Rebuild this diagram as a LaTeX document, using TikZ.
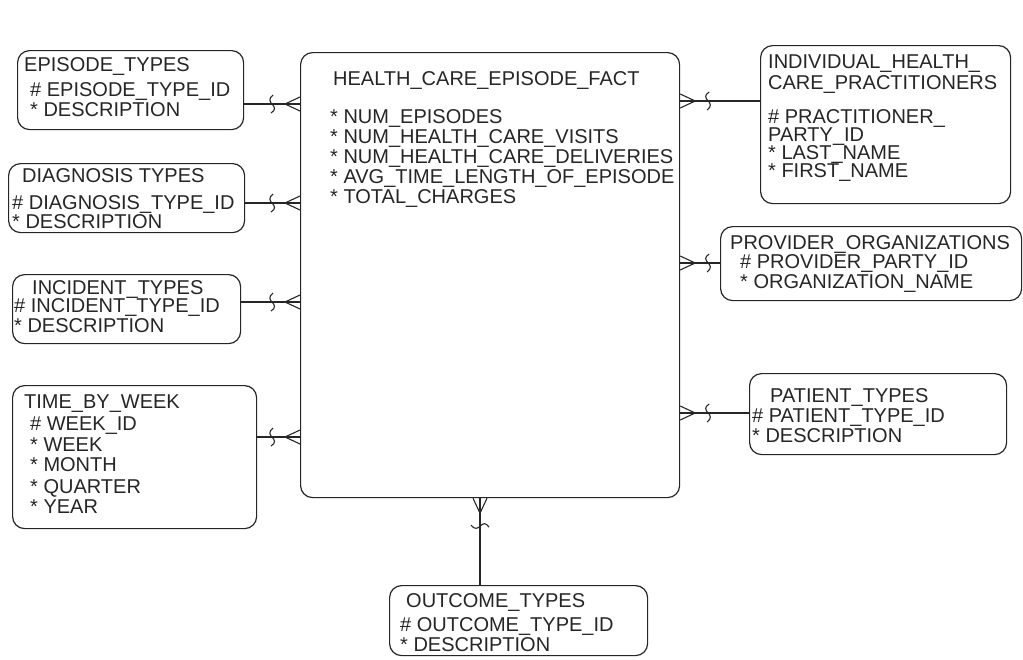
\documentclass[tikz,border=0pt]{standalone}
\usepackage{fontspec}
\setmainfont{Liberation Sans}
\begin{document}
\begin{tikzpicture}[x=1pt,y=-1pt,
  ent/.style={draw=black!85, line width=1.2pt, rounded corners=12pt, anchor=north west, inner sep=0pt},
  txt/.style={anchor=west, inner sep=0pt, text height=13.6pt, text depth=0pt, font=\fontsize{20}{22}\selectfont, text=black!85},
  conn/.style={draw=black!85, line width=1.1pt},
  crow/.pic={
    \draw[conn] (0,-7) -- (-15,0) -- (0,7);
    \draw[conn] (-27,-9) .. controls (-32,-5) and (-30,-2) .. (-28,0) .. controls (-25,3) and (-24,6) .. (-29,9);
  }]
\useasboundingbox (0,0) rectangle (1023,659);
\fill[white] (0,0) rectangle (1023,659);

% boxes
\node[ent, minimum width=226pt, minimum height=79pt] (ep) at (17,50) {};
\node[ent, minimum width=236pt, minimum height=69pt] (dg) at (8,163) {};
\node[ent, minimum width=228pt, minimum height=69pt] (inc) at (12,274) {};
\node[ent, minimum width=244pt, minimum height=143pt] (tw) at (12,385) {};
\node[ent, minimum width=379pt, minimum height=445pt] (fact) at (300,52) {};
\node[ent, minimum width=250pt, minimum height=158pt] (ind) at (760,45) {};
\node[ent, minimum width=301pt, minimum height=74pt] (pr) at (720,226) {};
\node[ent, minimum width=257pt, minimum height=81pt] (pt) at (749,373) {};
\node[ent, minimum width=258pt, minimum height=70pt] (oc) at (389,585) {};

% texts
\node[txt] (ep1) at (24,65) {EPISODE\_TYPES};
\node[txt] (ep2) at (30,90) {\# EPISODE\_TYPE\_ID};
\node[txt] (ep3) at (30,110) {* DESCRIPTION};

\node[txt] (dg1) at (22,176) {DIAGNOSIS TYPES};
\node[txt] (dg2) at (12,203) {\# DIAGNOSIS\_TYPE\_ID};
\node[txt] (dg3) at (12,222) {* DESCRIPTION};

\node[txt] (in1) at (32,288) {INCIDENT\_TYPES};
\node[txt] (in2) at (14,306) {\# INCIDENT\_TYPE\_ID};
\node[txt] (in3) at (14,326) {* DESCRIPTION};

\node[txt] (tw1) at (24,402) {TIME\_BY\_WEEK};
\node[txt] (tw2) at (30,424) {\# WEEK\_ID};
\node[txt] (tw3) at (30,445) {* WEEK};
\node[txt] (tw4) at (30,465) {* MONTH};
\node[txt] (tw5) at (30,487) {* QUARTER};
\node[txt] (tw6) at (30,507) {* YEAR};

\node[txt] (f0) at (333,79) {HEALTH\_CARE\_EPISODE\_FACT};
\node[txt] (f1) at (330,117) {* NUM\_EPISODES};
\node[txt] (f2) at (330,137) {* NUM\_HEALTH\_CARE\_VISITS};
\node[txt] (f3) at (330,157) {* NUM\_HEALTH\_CARE\_DELIVERIES};
\node[txt] (f4) at (330,177) {* AVG\_TIME\_LENGTH\_OF\_EPISODE};
\node[txt] (f5) at (330,197) {* TOTAL\_CHARGES};

\node[txt] (i1) at (768,62) {INDIVIDUAL\_HEALTH\_};
\node[txt] (i2) at (768,83) {CARE\_PRACTITIONERS};
\node[txt] (i3) at (768,117) {\# PRACTITIONER\_};
\node[txt] (i4) at (768,135) {PARTY\_ID};
\node[txt] (i5) at (768,153) {* LAST\_NAME};
\node[txt] (i6) at (768,171) {* FIRST\_NAME};

\node[txt] (p1) at (730,243) {PROVIDER\_ORGANIZATIONS};
\node[txt] (p2) at (740,262) {\# PROVIDER\_PARTY\_ID};
\node[txt] (p3) at (740,282) {* ORGANIZATION\_NAME};

\node[txt] (t1) at (770,396) {PATIENT\_TYPES};
\node[txt] (t2) at (752,416) {\# PATIENT\_TYPE\_ID};
\node[txt] (t3) at (752,436) {* DESCRIPTION};

\node[txt] (o1) at (406,601) {OUTCOME\_TYPES};
\node[txt] (o2) at (400,625) {\# OUTCOME\_TYPE\_ID};
\node[txt] (o3) at (400,645) {* DESCRIPTION};

% connector levels
\coordinate (c1) at (0,104);
\coordinate (c2) at (0,203);
\coordinate (c3) at (0,302);
\coordinate (c4) at (0,437);
\coordinate (r1) at (0,101);
\coordinate (r2) at (0,263);
\coordinate (r3) at (0,413);
\coordinate (b1) at (480,0);

% connectors
\draw[conn] (ep.east |- c1) -- (fact.west |- c1);
\draw[conn] (dg.east |- c2) -- (fact.west |- c2);
\draw[conn] (inc.east |- c3) -- (fact.west |- c3);
\draw[conn] (tw.east |- c4) -- (fact.west |- c4);
\draw[conn] (ind.west |- r1) -- (fact.east |- r1);
\draw[conn] (pr.west |- r2) -- (fact.east |- r2);
\draw[conn] (pt.west |- r3) -- (fact.east |- r3);
\draw[conn] (oc.north -| b1) -- (fact.south -| b1);

\pic at (fact.west |- c1) {crow};
\pic at (fact.west |- c2) {crow};
\pic at (fact.west |- c3) {crow};
\pic at (fact.west |- c4) {crow};
\pic[rotate=180] at (fact.east |- r1) {crow};
\pic[rotate=180] at (fact.east |- r2) {crow};
\pic[rotate=180] at (fact.east |- r3) {crow};
\pic[rotate=90] at (fact.south -| b1) {crow};
\end{tikzpicture}
\end{document}
